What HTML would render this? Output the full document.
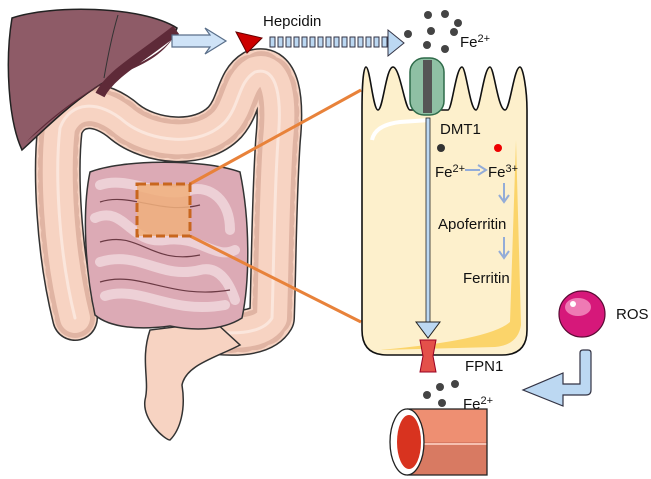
<!DOCTYPE html>
<html><head><style>
body{margin:0;width:651px;height:479px;background:#fff;overflow:hidden}
svg{display:block}
text{font-family:"Liberation Sans",sans-serif;fill:#111}
</style></head><body>
<svg width="651" height="479" viewBox="0 0 651 479">
<!-- colon -->
<g fill="none" stroke-linecap="round" stroke-linejoin="round">
<path d="M75 318 C58 250 55 170 60 128 C70 100 100 100 125 122 C150 142 200 148 225 122 C240 105 238 82 255 72 C278 65 282 100 278 140 C274 200 274 260 272 318 C262 335 230 335 200 330" stroke="#333" stroke-width="46"/>
<path d="M75 318 C58 250 55 170 60 128 C70 100 100 100 125 122 C150 142 200 148 225 122 C240 105 238 82 255 72 C278 65 282 100 278 140 C274 200 274 260 272 318 C262 335 230 335 200 330" stroke="#f7d3c2" stroke-width="43"/>
<path d="M75 318 C58 250 55 170 60 128 C70 100 100 100 125 122 C150 142 200 148 225 122 C240 105 238 82 255 72 C278 65 282 100 278 140 C274 200 274 260 272 318 C262 335 230 335 200 330" stroke="#e0b4a3" stroke-width="40" stroke-dasharray="1 11"/>
<path d="M75 318 C58 250 55 170 60 128 C70 100 100 100 125 122 C150 142 200 148 225 122 C240 105 238 82 255 72 C278 65 282 100 278 140 C274 200 274 260 272 318 C262 335 230 335 200 330" stroke="#f7d3c2" stroke-width="30"/>
<path d="M75 318 C58 250 55 170 60 128 C70 100 100 100 125 122 C150 142 200 148 225 122 C240 105 238 82 255 72 C278 65 282 100 278 140 C274 200 274 260 272 318 C262 335 230 335 200 330" stroke="#fbe6dc" stroke-width="3"/>
</g>
<path d="M150 330 C140 360 150 380 145 400 C142 420 165 440 170 440 C180 430 186 410 182 385 C186 365 215 358 240 345 L215 322 Z" fill="#f7d3c2" stroke="#333" stroke-width="1.5"/>
<!-- small intestine -->
<path d="M90 172 C120 160 200 158 240 172 C250 220 250 280 242 318 C220 332 190 330 170 326 C140 330 110 328 95 315 C85 270 82 210 90 172Z" fill="#dcaab5" stroke="#333" stroke-width="1.5"/>
<g fill="none" stroke="#edd0d6" stroke-width="10" stroke-linecap="round">
<path d="M100 185 C130 175 160 200 190 190 C210 185 230 200 230 230"/>
<path d="M95 218 C125 205 130 245 165 240 C200 235 215 260 235 250"/>
<path d="M100 262 C140 250 160 280 200 270 C220 265 230 285 235 300"/>
<path d="M105 296 C140 285 170 315 225 305"/>
</g>
<g fill="none" stroke="#6b3a44" stroke-width="1.2"><path d="M100 202 C130 192 160 215 200 205"/><path d="M100 242 C140 230 150 265 200 255"/><path d="M100 282 C140 270 170 300 230 290"/></g>
<!-- liver -->
<path d="M12 18 C50 5 140 5 177 28 C172 45 130 65 95 88 C65 108 42 132 22 150 C8 120 5 60 12 18Z" fill="#8e5b67" stroke="#222" stroke-width="1.5"/>
<path d="M26 142 C55 112 95 85 130 68 C155 56 170 45 176 32 C168 50 150 62 125 72 C95 86 65 108 40 130Z" fill="#5e2a38"/>
<path d="M100 95 C110 75 135 62 176 30" stroke="#5e2a38" stroke-width="10" fill="none"/>
<path d="M118 15 C112 35 108 55 104 78" stroke="#333" fill="none"/>
<!-- dashed box & lines -->
<line x1="190" y1="184" x2="361" y2="90" stroke="#e8823a" stroke-width="3"/>
<line x1="190" y1="236" x2="361" y2="322" stroke="#e8823a" stroke-width="3"/>
<rect x="137" y="184" width="53" height="52" fill="#f0b07c" fill-opacity="0.85" stroke="#c8661e" stroke-width="3" stroke-dasharray="9 4"/>
<!-- liver arrow -->
<path d="M172 35 L210 35 L205 28 L226 41 L205 54 L210 47 L172 47Z" fill="#cfe3f7" stroke="#5a6f8a" stroke-width="1.2"/>
<!-- hepcidin -->
<text x="263" y="26" font-size="15">Hepcidin</text>
<path d="M236 32 L262 38 L247 53Z" fill="#c00" stroke="#600"/>
<g fill="#bcd8f2" stroke="#334" stroke-width="1">
<rect x="270" y="37" width="5" height="10"/><rect x="278" y="37" width="5" height="10"/><rect x="286" y="37" width="5" height="10"/><rect x="294" y="37" width="5" height="10"/><rect x="302" y="37" width="5" height="10"/><rect x="310" y="37" width="5" height="10"/><rect x="318" y="37" width="5" height="10"/><rect x="326" y="37" width="5" height="10"/><rect x="334" y="37" width="5" height="10"/><rect x="342" y="37" width="5" height="10"/><rect x="350" y="37" width="5" height="10"/><rect x="358" y="37" width="5" height="10"/><rect x="366" y="37" width="5" height="10"/><rect x="374" y="37" width="5" height="10"/><rect x="382" y="37" width="5" height="10"/>
<path d="M388 37 L388 30 L404 43 L388 56 L388 48Z"/>
</g>
<!-- top Fe dots -->
<g fill="#444"><circle cx="428" cy="15" r="4"/><circle cx="445" cy="14" r="4"/><circle cx="458" cy="23" r="4"/><circle cx="454" cy="32" r="4"/><circle cx="431" cy="31" r="4"/><circle cx="408" cy="34" r="4"/><circle cx="427" cy="45" r="4"/><circle cx="445" cy="49" r="4"/></g>
<text x="460" y="47" font-size="15">Fe<tspan font-size="11" dy="-5">2+</tspan></text>
<!-- cell -->
<path d="M362 110 L362 330 Q362 355 387 355 L502 355 Q527 355 527 330 L527 110 C527 90 523 67 520 67 C514 67 510 110 505 110 C498 110 494 67 490 67 C484 67 480 110 476 110 C470 110 466 67 462 67 C456 67 452 110 448 110 L410 110 C405 110 400 67 393 67 C386 67 383 110 378 110 C373 110 370 67 366 67 C363 67 362 90 362 110Z" fill="#fdf0cc" stroke="#111" stroke-width="1.6"/>
<path d="M516 140 L521 325 Q518 345 495 347 L380 350 Q490 340 510 322Z" fill="#fbd46a"/>
<path d="M372 140 Q375 125 400 122 L430 120" stroke="#fff" stroke-width="4" fill="none"/>
<!-- DMT1 -->
<rect x="410" y="58" width="34" height="57" rx="14" fill="#8fc0a4" stroke="#2f6b4a" stroke-width="1.5"/>
<rect x="423" y="60" width="9" height="53" fill="#555"/>
<text x="440" y="134" font-size="15">DMT1</text>
<!-- central arrow -->
<rect x="426" y="118" width="4" height="205" fill="#bcd8f2" stroke="#222" stroke-width="0.8"/>
<path d="M416 322 L440 322 L428 338Z" fill="#bcd8f2" stroke="#222"/>
<!-- Fe conversions -->
<circle cx="441" cy="148" r="4" fill="#333"/><circle cx="498" cy="148" r="4" fill="#e00"/>
<text x="435" y="177" font-size="15">Fe<tspan font-size="11" dy="-5">2+</tspan></text>
<path d="M465 170 L480 170" stroke="#93acd8" stroke-width="2"/><path d="M478 165 L486 170 L478 175" stroke="#93acd8" stroke-width="2" fill="none"/>
<text x="488" y="177" font-size="15">Fe<tspan font-size="11" dy="-5">3+</tspan></text>
<path d="M504 183 L504 200 M499 195 L504 202 L509 195" stroke="#93acd8" stroke-width="2" fill="none"/>
<text x="438" y="229" font-size="15">Apoferritin</text>
<path d="M504 237 L504 256 M499 251 L504 258 L509 251" stroke="#93acd8" stroke-width="2" fill="none"/>
<text x="463" y="283" font-size="15">Ferritin</text>
<!-- FPN1 -->
<path d="M420 340 L436 340 L433 356 L436 372 L420 372 L423 356Z" fill="#e4504a" stroke="#902"/>
<text x="465" y="371" font-size="15">FPN1</text>
<!-- bottom Fe -->
<g fill="#444"><circle cx="427" cy="395" r="4"/><circle cx="440" cy="387" r="4"/><circle cx="455" cy="384" r="4"/><circle cx="442" cy="403" r="4"/></g>
<text x="463" y="409" font-size="15">Fe<tspan font-size="11" dy="-5">2+</tspan></text>
<!-- vessel -->
<path d="M407 409 L487 409 L487 475 L407 475Z" fill="#ee8f72"/>
<rect x="407" y="442" width="80" height="33" fill="#d87a62"/>
<line x1="407" y1="444" x2="487" y2="444" stroke="#f6c0b0" stroke-width="2"/>
<path d="M407 409 L487 409 L487 475 L407 475" fill="none" stroke="#222" stroke-width="1.3"/>
<ellipse cx="407" cy="442" rx="17" ry="33" fill="#fff" stroke="#222" stroke-width="1.3"/>
<ellipse cx="409" cy="442" rx="12" ry="27" fill="#d8331f"/>
<!-- ROS -->
<circle cx="582" cy="314" r="23" fill="#d6187a" stroke="#5a0b34" stroke-width="1.2"/>
<ellipse cx="578" cy="307" rx="13" ry="9" fill="#ee7ab4"/>
<circle cx="573" cy="304" r="3" fill="#fff"/>
<text x="616" y="319" font-size="15">ROS</text>
<path d="M580 353 Q580 350 583 350 L588 350 Q591 350 591 353 L591 390 Q591 395 586 395 L563 395 L563 406 L523 390 L563 373 L563 384 L580 384Z" fill="#bcd8f2" stroke="#334" stroke-width="1.2"/>
</svg>
</body></html>
